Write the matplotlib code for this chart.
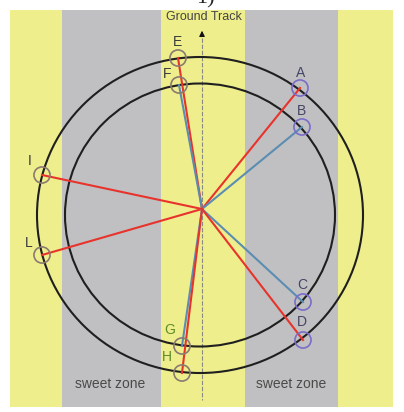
import matplotlib
matplotlib.use("Agg")
import matplotlib.pyplot as plt
from matplotlib.patches import Rectangle, Ellipse

# ---- data (pixel-space coordinates) ----
strip_edges = [10, 62, 161, 245, 338, 393]
strip_colors = ["#eeee8c", "#c0c0c2", "#eeee8c", "#c0c0c2", "#eeee8c"]
panel_top, panel_bottom = 10, 407

ring_center = (200, 215)
ring_outer = (326, 316)   # width, height
ring_inner = (270, 263)

hub = (202, 209)

names = ["E", "F", "A", "B", "I", "L", "C", "D", "G", "H"]
px = [178, 179, 300, 302, 42, 42, 303, 303, 182, 182]
py = [58, 85, 88, 127, 175, 255, 302, 340, 346, 373]
line_color = ["red", "blue", "red", "blue", "red", "red", "blue", "red", "blue", "red"]
marker_group = ["gray", "gray", "purple", "purple", "gray", "gray", "purple", "purple", "gray", "gray"]
label_dx = [-1, -12, 1, -1, -12, -13, -1, -1, -12, -15]
label_dy = [-16, -11, -15, -16, -14, -12, -17, -18, -16, -16]
label_color = ["#3a3a3a", "#3a3a3a", "#444466", "#444466", "#3a3a3a", "#3a3a3a",
               "#444466", "#444466", "#5f8a2a", "#5f8a2a"]

zone_text = ["sweet zone", "sweet zone"]
zone_x = [110, 291]
zone_y = 384

colors = {"red": "#e8332c", "blue": "#5b8db3", "gray": "#8a7a70", "purple": "#7a6cc8"}

fig = plt.figure(figsize=(4.04, 4.12), dpi=100)
ax = fig.add_axes([0, 0, 1, 1])
ax.set_xlim(0, 404)
ax.set_ylim(412, 0)
ax.axis("off")

# background strips
for x0, x1, c in zip(strip_edges[:-1], strip_edges[1:], strip_colors):
    ax.add_patch(Rectangle((x0, panel_top), x1 - x0, panel_bottom - panel_top,
                           facecolor=c, edgecolor="none", zorder=0))

# ground track
ax.plot([202, 202], [38, 400], color="#8a8a80", lw=0.8, ls=(0, (4, 1.5)), zorder=1)
ax.annotate("", xy=(202, 28), xytext=(202, 38),
            arrowprops=dict(arrowstyle="-|>", color="#111111", lw=0.8,
                            mutation_scale=8), zorder=2)
ax.text(204, 17, "Ground Track", ha="center", va="center", fontsize=9,
        family="Liberation Sans", color="#444444")

# rings
for w, h in (ring_outer, ring_inner):
    ax.add_patch(Ellipse(ring_center, w, h, facecolor="none",
                         edgecolor="#1f1f1f", lw=1.5, zorder=3))

# rays
for x, y, lc in zip(px, py, line_color):
    ax.plot([hub[0], x], [hub[1], y], color=colors[lc], lw=1.5, zorder=4)

# markers and labels
for n, x, y, mg, dx, dy, tc in zip(names, px, py, marker_group, label_dx, label_dy, label_color):
    ax.scatter([x], [y], s=135, facecolors="none", edgecolors=colors[mg],
               linewidths=1.2, zorder=5)
    ax.text(x + dx, y + dy, n, ha="center", va="center", fontsize=10,
            family="Liberation Sans", color=tc, zorder=6)

for t, x in zip(zone_text, zone_x):
    ax.text(x, zone_y, t, ha="center", va="center", fontsize=10,
            family="Liberation Sans", color="#4a4a4a", zorder=6)

# partially visible panel caption at top
ax.text(205, 8, "1)", ha="center", va="bottom", fontsize=16,
        family="Liberation Serif", color="#222222")

fig.savefig("out.png", dpi=100)
